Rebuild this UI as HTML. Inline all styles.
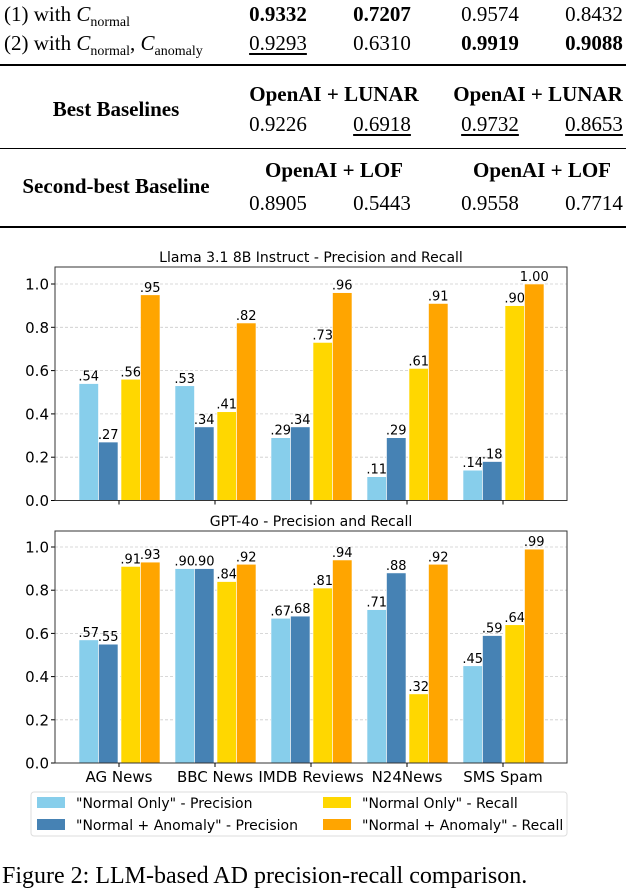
<!DOCTYPE html>
<html><head><meta charset="utf-8"><style>
body{margin:0;width:626px;height:872px;overflow:hidden;background:#fff;position:relative;font-family:"Liberation Serif",serif}
.t{position:absolute;font-size:21px;white-space:nowrap;color:#000}
.b{font-weight:bold}.u{text-decoration:underline;text-underline-offset:3px}
.c{transform:translateX(-50%)}
.rule{position:absolute;left:0;width:626px;background:#000}
</style></head><body>
<div class="t" style="left:4px;top:2px">(1) with <i>C</i><sub style="font-size:14px">normal</sub></div>
<div class="t c b" style="left:278px;top:2px">0.9332</div>
<div class="t c b" style="left:382px;top:2px">0.7207</div>
<div class="t c" style="left:490px;top:2px">0.9574</div>
<div class="t c" style="left:594px;top:2px">0.8432</div>
<div class="t" style="left:4px;top:31px">(2) with <i>C</i><sub style="font-size:14px">normal</sub>, <i>C</i><sub style="font-size:14px">anomaly</sub></div>
<div class="t c u" style="left:278px;top:31px">0.9293</div>
<div class="t c" style="left:382px;top:31px">0.6310</div>
<div class="t c b" style="left:490px;top:31px">0.9919</div>
<div class="t c b" style="left:594px;top:31px">0.9088</div>
<div class="rule" style="top:64px;height:2px"></div>
<div class="t c b" style="left:116px;top:97px">Best Baselines</div>
<div class="t c b" style="left:334px;top:82px">OpenAI + LUNAR</div>
<div class="t c b" style="left:538px;top:82px">OpenAI + LUNAR</div>
<div class="t c" style="left:278px;top:112px">0.9226</div>
<div class="t c u" style="left:382px;top:112px">0.6918</div>
<div class="t c u" style="left:490px;top:112px">0.9732</div>
<div class="t c u" style="left:594px;top:112px">0.8653</div>
<div class="rule" style="top:148px;height:1px"></div>
<div class="t c b" style="left:116px;top:174px">Second-best Baseline</div>
<div class="t c b" style="left:334px;top:158px">OpenAI + LOF</div>
<div class="t c b" style="left:542px;top:158px">OpenAI + LOF</div>
<div class="t c" style="left:278px;top:191px">0.8905</div>
<div class="t c" style="left:382px;top:191px">0.5443</div>
<div class="t c" style="left:490px;top:191px">0.9558</div>
<div class="t c" style="left:594px;top:191px">0.7714</div>
<div class="rule" style="top:226px;height:2px"></div>

<svg id="chart" width="626" height="872" style="position:absolute;left:0;top:0" font-family="DejaVu Sans, sans-serif"></svg>
<div class="t" style="left:2px;top:863px;font-size:24px">Figure 2: LLM-based AD precision-recall comparison.</div>

<script>
const categories=["AG News","BBC News","IMDB Reviews","N24News","SMS Spam"];
const seriesNames=['"Normal Only" - Precision','"Normal + Anomaly" - Precision','"Normal Only" - Recall','"Normal + Anomaly" - Recall'];
const llamaNormalPrec=[0.54,0.53,0.29,0.11,0.14];
const llamaAnomPrec=[0.27,0.34,0.34,0.29,0.18];
const llamaNormalRec=[0.56,0.41,0.73,0.61,0.90];
const llamaAnomRec=[0.95,0.82,0.96,0.91,1.00];
const gptNormalPrec=[0.57,0.90,0.67,0.71,0.45];
const gptAnomPrec=[0.55,0.90,0.68,0.88,0.59];
const gptNormalRec=[0.91,0.84,0.81,0.32,0.64];
const gptAnomRec=[0.93,0.92,0.94,0.92,0.99];
const yTicks=[0,0.2,0.4,0.6,0.8,1.0];
const colors=["#87CEEB","#4682B4","#FFD700","#FFA500"];
const NS="http://www.w3.org/2000/svg";
const svg=document.getElementById("chart");
function mk(tag,attrs,parent){const e=document.createElementNS(NS,tag);for(const k in attrs)e.setAttribute(k,attrs[k]);(parent||svg).appendChild(e);return e;}
const X0=55,X1=567;
function xCenter(i){return 119+i*96;}
const offsets=[-40,-20.5,2,21.5],BW=19.5;
function fmt(v){return v>=1?v.toFixed(2):v.toFixed(2).replace(/^0/,"");}
function panel(title,top,y0px,y1px,series,showX,name){
  const g=mk("g",{});
  
  
  const y=v=>y0px-(y0px-y1px)*v;
  const t=mk("text",{x:311,y:top-5,"text-anchor":"middle","font-size":"14"},g);t.textContent=title;
  
  
  yTicks.forEach(v=>{
    if(v>0){const gl=mk("line",{x1:X0,x2:X1,y1:y(v),y2:y(v),stroke:"#ccc","stroke-dasharray":"3,2","stroke-width":"0.8"},g);
    
    }
    const tl=mk("text",{x:X0-6,y:y(v)+5.5,"text-anchor":"end","font-size":"15"},g);tl.textContent=v.toFixed(1);
    
    
    mk("line",{x1:X0-4,x2:X0,y1:y(v),y2:y(v),stroke:"#000"},g);
  });
  series.forEach((arr,s)=>{
    arr.forEach((v,i)=>{
      const bx=xCenter(i)+offsets[s];
      const r=mk("rect",{x:bx,y:y(v),width:BW,height:y0px-y(v),fill:colors[s],stroke:"#fff","stroke-width":"0.6"},g);
      
      
      const lb=mk("text",{x:bx+BW/2,y:y(v)-3,"text-anchor":"middle","font-size":"13"},g);lb.textContent=fmt(v);
      
      
    });
  });
  const fr=mk("rect",{x:X0,y:top,width:X1-X0,height:y0px-top,fill:"none",stroke:"#333","stroke-width":"1"},g);
  
  
  categories.forEach((c,i)=>{
    mk("line",{x1:xCenter(i),x2:xCenter(i),y1:y0px,y2:y0px+4,stroke:"#000"},g);
    if(showX){const xl=mk("text",{x:xCenter(i),y:y0px+19,"text-anchor":"middle","font-size":"15"},g);xl.textContent=c;
    
    }
  });
}
panel("Llama 3.1 8B Instruct - Precision and Recall",267,500.5,284,[llamaNormalPrec,llamaAnomPrec,llamaNormalRec,llamaAnomRec],false,"llama-chart");
panel("GPT-4o - Precision and Recall",531,763,547,[gptNormalPrec,gptAnomPrec,gptNormalRec,gptAnomRec],true,"gpt4o-chart");
const lg=mk("g",{});


mk("rect",{x:31,y:792,width:536,height:44,rx:3,fill:"#fff",stroke:"#ddd"},lg);
const lpos=[[37,797],[37,819],[323,797],[323,819]];
seriesNames.forEach((n,s)=>{
  const [lx,ly]=lpos[s];
  mk("rect",{x:lx,y:ly,width:28,height:11,fill:colors[s]},lg);
  const tx=mk("text",{x:lx+39,y:ly+11,"font-size":"14"},lg);tx.textContent=n;
  
  
});
</script>
</body></html>
